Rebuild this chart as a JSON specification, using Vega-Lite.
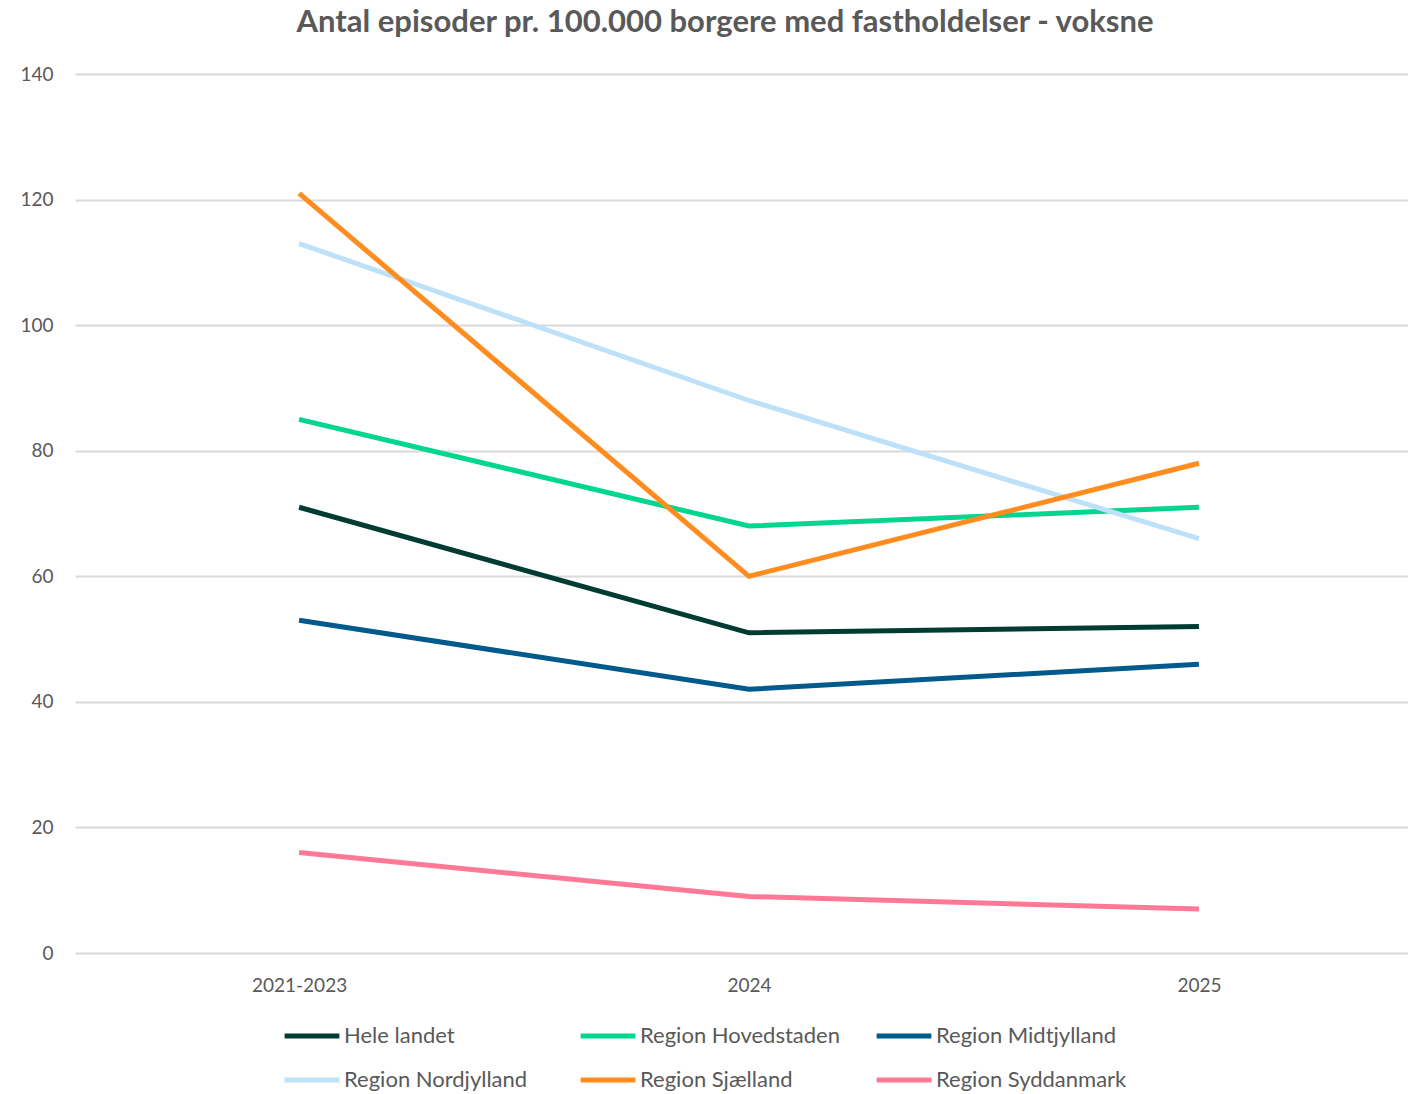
{
  "$schema": "https://vega.github.io/schema/vega-lite/v6.json",
  "autosize": "none",
  "padding": {"left": 75, "top": 74, "right": 0, "bottom": 141},
  "width": 1348,
  "height": 879,
  "background": "white",
  "config": {"view": {"stroke": null}},
  "title": {
    "text": "Antal episoder pr. 100.000 borgere med fastholdelser - voksne",
    "font": "Lato",
    "fontSize": 31,
    "fontWeight": "bold",
    "color": "#595959",
    "anchor": "middle",
    "dx": -24,
    "offset": 26
  },
  "data": {
    "values": [
      {"periode": "2021-2023", "serie": "Hele landet", "værdi": 71},
      {"periode": "2024", "serie": "Hele landet", "værdi": 51},
      {"periode": "2025", "serie": "Hele landet", "værdi": 52},
      {"periode": "2021-2023", "serie": "Region Hovedstaden", "værdi": 85},
      {"periode": "2024", "serie": "Region Hovedstaden", "værdi": 68},
      {"periode": "2025", "serie": "Region Hovedstaden", "værdi": 71},
      {"periode": "2021-2023", "serie": "Region Midtjylland", "værdi": 53},
      {"periode": "2024", "serie": "Region Midtjylland", "værdi": 42},
      {"periode": "2025", "serie": "Region Midtjylland", "værdi": 46},
      {"periode": "2021-2023", "serie": "Region Nordjylland", "værdi": 113},
      {"periode": "2024", "serie": "Region Nordjylland", "værdi": 88},
      {"periode": "2025", "serie": "Region Nordjylland", "værdi": 66},
      {"periode": "2021-2023", "serie": "Region Sjælland", "værdi": 121},
      {"periode": "2024", "serie": "Region Sjælland", "værdi": 60},
      {"periode": "2025", "serie": "Region Sjælland", "værdi": 78},
      {"periode": "2021-2023", "serie": "Region Syddanmark", "værdi": 16},
      {"periode": "2024", "serie": "Region Syddanmark", "værdi": 9},
      {"periode": "2025", "serie": "Region Syddanmark", "værdi": 7}
    ]
  },
  "mark": {"type": "line", "strokeWidth": 5, "strokeCap": "butt"},
  "encoding": {
    "x": {
      "field": "periode",
      "type": "ordinal",
      "sort": ["2021-2023", "2024", "2025"],
      "scale": {"type": "point", "padding": 0.498},
      "axis": {
        "title": null,
        "domain": false,
        "ticks": false,
        "grid": false,
        "labelAngle": 0,
        "labelFont": "Lato",
        "labelFontSize": 19,
        "labelColor": "#595959",
        "labelPadding": 23
      }
    },
    "y": {
      "field": "værdi",
      "type": "quantitative",
      "scale": {"domain": [0, 140], "nice": false},
      "axis": {
        "title": null,
        "values": [0, 20, 40, 60, 80, 100, 120, 140],
        "domain": false,
        "ticks": false,
        "gridColor": "#d9d9d9",
        "gridWidth": 2,
        "labelFont": "Lato",
        "labelFontSize": 19,
        "labelColor": "#595959",
        "labelPadding": 22
      }
    },
    "color": {
      "field": "serie",
      "type": "nominal",
      "scale": {
        "domain": ["Hele landet", "Region Hovedstaden", "Region Midtjylland", "Region Nordjylland", "Region Sjælland", "Region Syddanmark"],
        "range": ["#003C32", "#00D68F", "#005A8C", "#BEE1FA", "#FF8C1E", "#FF7896"]
      },
      "legend": {
        "title": null,
        "orient": "none",
        "legendX": 207,
        "legendY": 932,
        "direction": "horizontal",
        "columns": 3,
        "gridAlign": "all",
        "columnPadding": 26,
        "rowPadding": 3,
        "labelLimit": 0,
        "symbolType": "stroke",
        "symbolSize": 3000,
        "symbolStrokeWidth": 5,
        "labelOffset": 2,
        "labelFont": "Lato",
        "labelFontSize": 22,
        "labelColor": "#595959"
      }
    }
  }
}
